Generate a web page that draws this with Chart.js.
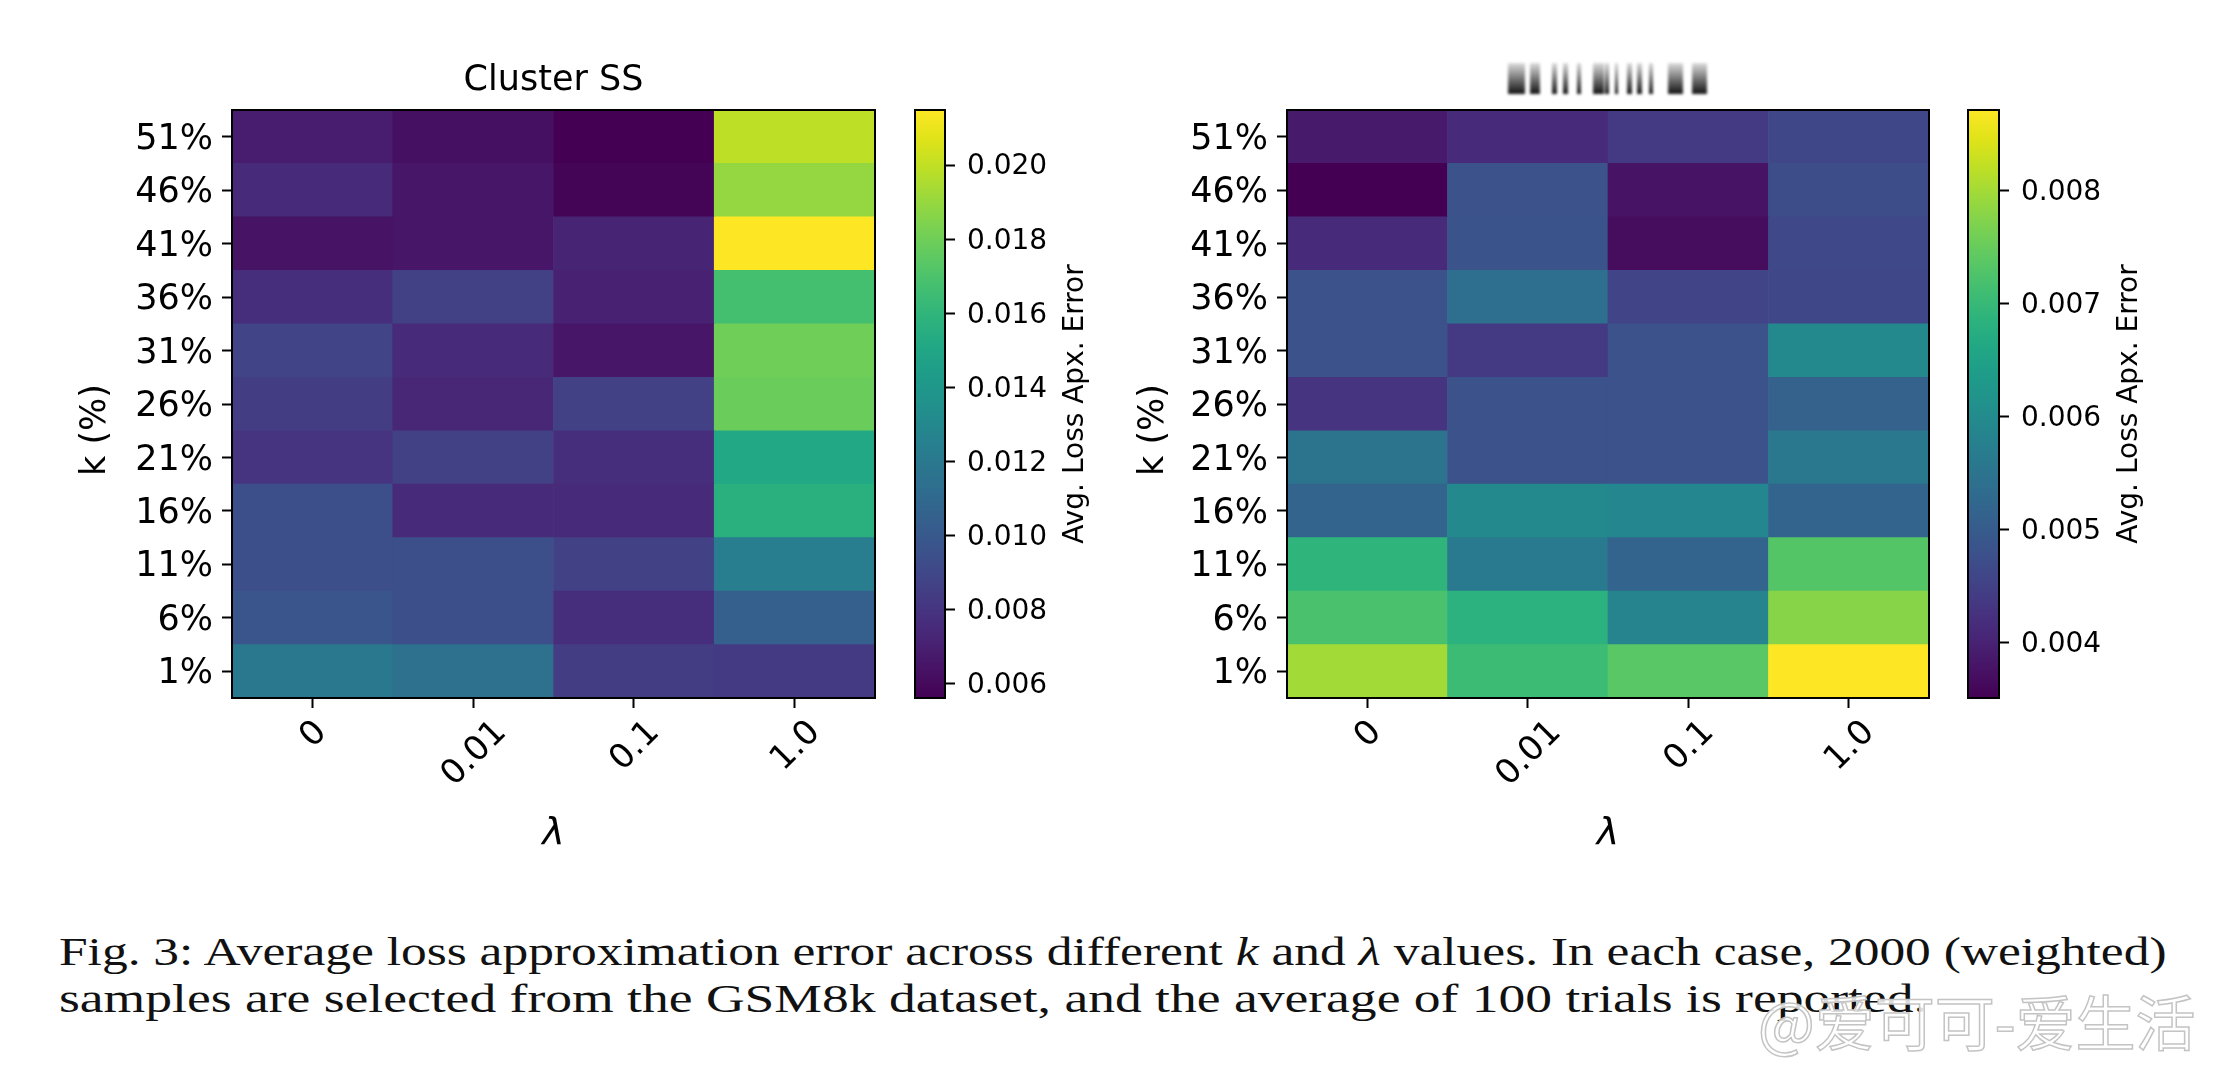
<!DOCTYPE html>
<html>
<head>
<meta charset="utf-8">
<script src="https://cdn.jsdelivr.net/npm/chart.js@4.4.0/dist/chart.umd.min.js"></script>
<style>
  body { margin: 0; background: #fff; width: 2218px; height: 1080px; overflow: hidden; position: relative; }
  .box { position: absolute; top: 0; }
  #caption { position: absolute; left: 59px; top: 928px; font-family: 'Liberation Serif', serif; font-size: 41px; line-height: 47px; color: #111; }
  #caption span { display: inline-block; white-space: nowrap; transform-origin: 0 0; }
  #redact { position: absolute; left: 1506px; top: 63px; width: 205px; height: 31px; filter: blur(1.5px); }
  #redact span { position: absolute; top: 0; height: 31px; background: linear-gradient(to bottom, #ddd, #111); }
  #mark { position: absolute; left: 1758px; top: 976px; font-family: 'Noto Sans CJK SC', sans-serif; font-size: 60px; color: rgba(255,255,255,0.85); -webkit-text-stroke: 1.5px #c4c4c4; }
</style>
</head>
<body>
<div class="box" style="left:0px"><canvas id="heat1" width="900" height="860"></canvas></div>
<div class="box" style="left:900px"><canvas id="cbar1" width="220" height="860"></canvas></div>
<div class="box" style="left:1060px"><canvas id="heat2" width="900" height="860"></canvas></div>
<div class="box" style="left:1950px"><canvas id="cbar2" width="268" height="860"></canvas></div>
<div id="redact"></div>
<div id="caption"><span id="cap1">Fig. 3: Average loss approximation error across different <i>k</i> and <i>λ</i> values. In each case, 2000 (weighted)</span><br><span id="cap2">samples are selected from the GSM8k dataset, and the average of 100 trials is reported.</span></div>
<div id="mark">@爱可可-爱生活</div>
<script>
// rows bottom -> top (1% ... 51%), columns = lambda
const kLabels = ['1%', '6%', '11%', '16%', '21%', '26%', '31%', '36%', '41%', '46%', '51%'];
const lambdaLabels = ['0', '0.01', '0.1', '1.0'];

const clusterSS = [
  [0.01196, 0.01149, 0.00847, 0.00831],
  [0.00974, 0.00942, 0.00767, 0.01037],
  [0.00942, 0.00942, 0.00863, 0.01228],
  [0.00942, 0.00752, 0.00752, 0.01561],
  [0.00799, 0.00863, 0.00767, 0.01514],
  [0.00847, 0.00736, 0.00863, 0.01784],
  [0.00879, 0.00752, 0.00656, 0.01800],
  [0.00767, 0.00863, 0.00704, 0.01673],
  [0.00640, 0.00656, 0.00720, 0.02149],
  [0.00752, 0.00656, 0.00577, 0.01895],
  [0.00688, 0.00625, 0.00561, 0.01990]
];

const rightPanel = [
  [0.00798, 0.00705, 0.00736, 0.00871],
  [0.00720, 0.00684, 0.00585, 0.00777],
  [0.00689, 0.00564, 0.00517, 0.00731],
  [0.00517, 0.00595, 0.00590, 0.00517],
  [0.00549, 0.00481, 0.00481, 0.00559],
  [0.00429, 0.00481, 0.00481, 0.00512],
  [0.00481, 0.00439, 0.00481, 0.00595],
  [0.00481, 0.00538, 0.00455, 0.00460],
  [0.00413, 0.00486, 0.00367, 0.00465],
  [0.00351, 0.00481, 0.00377, 0.00471],
  [0.00387, 0.00413, 0.00439, 0.00460]
];

const cbarTicks1 = [0.006, 0.008, 0.010, 0.012, 0.014, 0.016, 0.018, 0.020];
const cbarTicks2 = [0.004, 0.005, 0.006, 0.007, 0.008];

const viridis = ['#440154', '#471365', '#482475', '#463480', '#414487', '#3b528b', '#355f8d',
  '#2f6c8e', '#2a788e', '#25848e', '#21918c', '#1e9c89', '#22a884', '#2fb47c', '#44bf70',
  '#5ec962', '#7ad151', '#9bd93c', '#bddf26', '#dfe318', '#fde725'];

function hexRgb(h) {
  return [1, 3, 5].map(i => parseInt(h.slice(i, i + 2), 16));
}

function viridisColor(t) {
  t = Math.min(1, Math.max(0, t));
  const p = t * (viridis.length - 1);
  const i = Math.min(viridis.length - 2, Math.floor(p));
  const f = p - i;
  const a = hexRgb(viridis[i]), b = hexRgb(viridis[i + 1]);
  const c = a.map((v, j) => Math.round(v + (b[j] - v) * f));
  return 'rgb(' + c.join(',') + ')';
}

Chart.defaults.font.family = 'DejaVu Sans';
Chart.defaults.color = '#000';
Chart.defaults.animation = false;

// black frame around the plot area
const frame = {
  id: 'frame',
  afterDraw(chart) {
    const a = chart.chartArea, c = chart.ctx;
    c.save();
    c.strokeStyle = '#000';
    c.lineWidth = 2;
    c.strokeRect(a.left, a.top, a.right - a.left, a.bottom - a.top);
    c.restore();
  }
};

// x tick labels rotated 45 deg, centred on the tick like matplotlib
const rotatedTicks = {
  id: 'rotatedTicks',
  afterDraw(chart) {
    const x = chart.scales.x, c = chart.ctx;
    c.save();
    c.font = '34px "DejaVu Sans"';
    c.fillStyle = '#000';
    c.textAlign = 'center';
    c.textBaseline = 'middle';
    const top = chart.chartArea.bottom + 19;
    x.getLabels().forEach((lab, i) => {
      const w = c.measureText(lab).width;
      const H = (w + 25) * Math.SQRT1_2;
      c.save();
      c.translate(x.getPixelForValue(i), top + H / 2);
      c.rotate(-Math.PI / 4);
      c.fillText(lab, 0, 2);
      c.restore();
    });
    c.restore();
  }
};

// vertical label reading bottom to top (colorbar label, k axis label)
const sideLabel = {
  id: 'sideLabel',
  afterDraw(chart, args, opts) {
    if (!opts.text) return;
    const a = chart.chartArea, c = chart.ctx;
    c.save();
    c.font = opts.size + 'px "DejaVu Sans"';
    c.fillStyle = '#000';
    c.textAlign = 'center';
    c.textBaseline = 'middle';
    const x = opts.fromLeft ? opts.dx : a.right + opts.dx;
    c.translate(x, (a.top + a.bottom) / 2 + (opts.dy || 0));
    c.rotate(-Math.PI / 2);
    c.fillText(opts.text, 0, 0);
    c.restore();
  }
};

function heatmap(id, values, title, yWidth, padRight, labelX) {
  const flat = values.flat();
  const vmin = Math.min(...flat), vmax = Math.max(...flat);
  const datasets = values.map((row, i) => ({
    label: kLabels[i],
    data: row.map(() => [i - 0.5, i + 0.5]),
    backgroundColor: row.map(v => viridisColor((v - vmin) / (vmax - vmin))),
    borderWidth: 0,
    barPercentage: 1,
    categoryPercentage: 1,
    grouped: false
  }));
  new Chart(document.getElementById(id), {
    type: 'bar',
    data: { labels: lambdaLabels, datasets: datasets },
    options: {
      responsive: false,
      layout: { padding: { top: 0, right: padRight, left: 0, bottom: 0 } },
      plugins: {
        legend: { display: false },
        tooltip: { enabled: false },
        sideLabel: { text: 'k (%)', size: 35, fromLeft: true, dx: labelX, dy: 26 }
      },
      scales: {
        x: {
          type: 'category',
          offset: true,
          grid: { display: true, drawOnChartArea: false, offset: false, tickLength: 10, tickWidth: 2, tickColor: '#000' },
          border: { display: true, color: '#000', width: 2 },
          ticks: { display: false },
          title: { display: true, text: 'λ', font: { size: 38, style: 'italic' }, padding: { bottom: 3 } },
          afterFit: s => { s.height = 162; }
        },
        // top axis only carries the panel title, centred over the plot area
        xt: {
          type: 'category',
          labels: lambdaLabels,
          position: 'top',
          offset: true,
          grid: { display: false },
          border: { display: false },
          ticks: { display: false },
          title: { display: !!title, text: title, font: { size: 35 }, padding: { top: 60 } },
          afterFit: s => { s.height = 110; }
        },
        y: {
          type: 'linear',
          min: -0.5,
          max: 10.5,
          afterBuildTicks: s => { s.ticks = kLabels.map((_, i) => ({ value: i })); },
          grid: { display: true, drawOnChartArea: false, tickLength: 10, tickWidth: 2, tickColor: '#000' },
          border: { display: true, color: '#000', width: 2 },
          ticks: { autoSkip: false, font: { size: 35 }, padding: 9, labelOffset: 3, callback: v => kLabels[v] },
          afterFit: s => { s.width = yWidth; }
        }
      }
    },
    plugins: [frame, rotatedTicks, sideLabel]
  });
}

function colorbar(id, values, tickVals, padLeft, yWidth) {
  const flat = values.flat();
  const vmin = Math.min(...flat), vmax = Math.max(...flat);
  new Chart(document.getElementById(id), {
    type: 'bar',
    data: {
      labels: [''],
      datasets: [{
        data: [[vmin, vmax]],
        barPercentage: 1,
        categoryPercentage: 1,
        borderWidth: 0,
        backgroundColor: c => {
          const a = c.chart.chartArea;
          if (!a) return null;
          const g = c.chart.ctx.createLinearGradient(0, a.bottom, 0, a.top);
          viridis.forEach((col, i) => g.addColorStop(i / (viridis.length - 1), col));
          return g;
        }
      }]
    },
    options: {
      responsive: false,
      layout: { padding: { top: 110, bottom: 162, left: padLeft, right: 0 } },
      plugins: {
        legend: { display: false },
        tooltip: { enabled: false },
        sideLabel: { text: 'Avg. Loss Apx. Error', size: 28, dx: 131 }
      },
      scales: {
        x: { display: false },
        y: {
          type: 'linear',
          position: 'right',
          min: vmin,
          max: vmax,
          afterBuildTicks: s => { s.ticks = tickVals.map(v => ({ value: v })); },
          grid: { display: true, drawOnChartArea: false, tickLength: 10, tickWidth: 2, tickColor: '#000' },
          border: { display: false },
          ticks: { autoSkip: false, font: { size: 28 }, padding: 12, labelOffset: 2, callback: v => v.toFixed(3) },
          afterFit: s => { s.width = yWidth; }
        }
      }
    },
    plugins: [frame, sideLabel]
  });
}

heatmap('heat1', clusterSS, 'Cluster SS', 232, 25, 96);
colorbar('cbar1', clusterSS, cbarTicks1, 15, 175);
heatmap('heat2', rightPanel, '', 227, 31, 94);
colorbar('cbar2', rightPanel, cbarTicks2, 18, 219);

// blurred-out title of the right panel
const redactBars = [[2, 17], [24, 10], [46, 5], [57, 5], [71, 4], [87, 11], [99, 4], [109, 3], [121, 5], [131, 5], [143, 4], [162, 15], [186, 15]];
redactBars.forEach(([l, w]) => {
  const s = document.createElement('span');
  s.style.left = l + 'px';
  s.style.width = w + 'px';
  document.getElementById('redact').appendChild(s);
});

// stretch the caption lines to the widths of the typeset original
[['cap1', 2108], ['cap2', 1868]].forEach(([id, w]) => {
  const el = document.getElementById(id);
  el.style.transform = 'scaleX(' + (w / el.offsetWidth) + ')';
});
</script>
</body>
</html>
